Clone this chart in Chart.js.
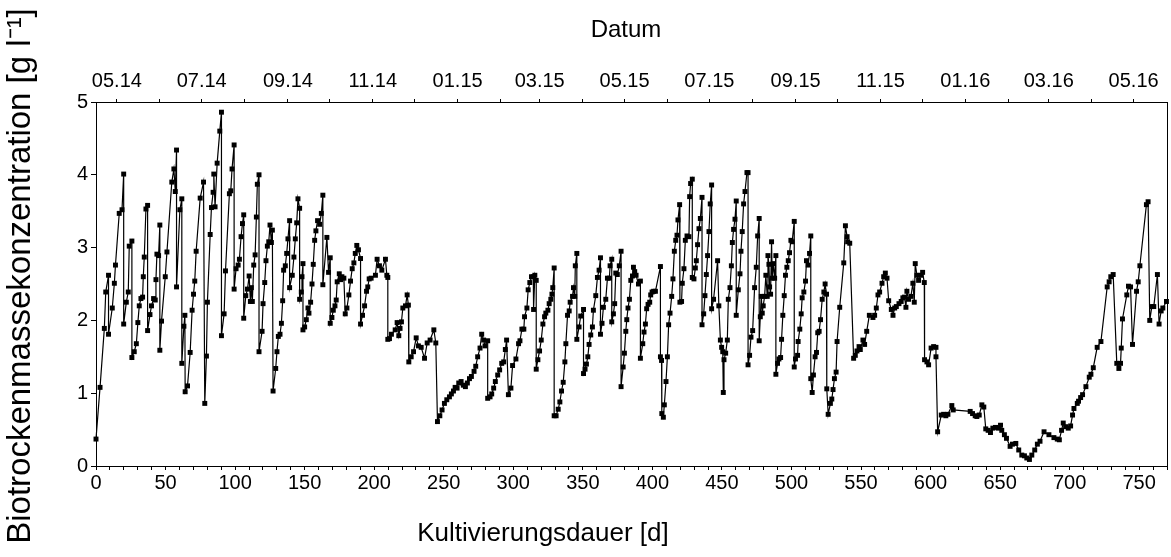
<!DOCTYPE html>
<html>
<head>
<meta charset="utf-8">
<script src="https://cdn.jsdelivr.net/npm/chart.js@4/dist/chart.umd.min.js"></script>
<style>
  html, body { margin: 0; padding: 0; background: #fff; }
  #wrap { width: 1171px; height: 557px; }
</style>
</head>
<body>
<div id="wrap"><canvas id="graficoBTM"></canvas></div>
<script>
// Kultivierungsdauer [d] und Biotrockenmassekonzentration [g/l]
var tage = [
  0, 2.9, 6, 7, 9, 9, 11.7, 13.2, 14, 16.7, 18.7, 19.9, 19.9, 21.8, 23.2, 23.9, 25.8, 25.8, 27.5, 29,
  30.1, 31.1, 32.3, 33.5, 34, 34.7, 35.9, 37.1, 37.1, 38.8, 39.9, 41.4, 42.6, 43.1, 43.8, 45, 45.9, 45.9, 47.1, 49.8,
  51, 54.5, 56, 57, 57.9, 57.9, 60.3, 61.7, 61.7, 63.2, 63.9, 64.1, 65.8, 67.7, 69.1, 70.1, 71, 72, 74.9, 77.3,
  78.2, 79.4, 80.1, 82.1, 83, 84.2, 84.7, 85.6, 87.1, 89, 90.2, 90.2, 92.1, 93.1, 95.9, 96.9, 97.8, 99.3, 99.3, 100.7,
  102.2, 103.1, 104.3, 105.3, 106.2, 106.2, 107.7, 108.9, 110.1, 111, 111.7, 112.4, 113.4, 114.4, 115.3, 116, 117.2, 117.2, 119.4, 120.1,
  121.3, 122.2, 123.2, 124.2, 125.1, 126.1, 126.8, 127.3, 129.2, 130.1, 131.1, 132.3, 133.3, 134.2, 134.9, 136.1, 137.1, 138, 139.2, 139.2,
  141.1, 142.3, 143.3, 144.3, 145.2, 146.4, 146.4, 147.6, 148.1, 148.8, 148.8, 150, 151.2, 152.4, 153.1, 154.3, 155.3, 156.2, 157.2, 158.1,
  159.3, 160.8, 162, 163.1, 163.1, 166, 167.2, 168.4, 168.4, 169.6, 170.6, 171.8, 172.7, 173.4, 174.9, 175.8, 176.8, 178.2, 179.2, 180.4,
  181.8, 183, 184.2, 185.4, 186.4, 187.5, 188.7, 190.2, 190.2, 191.6, 193.1, 194.5, 195.4, 196.4, 197.8, 200.9, 202.1, 203.8, 205.5, 208.1,
  209.1, 209.8, 209.8, 211, 212.4, 215.1, 216.5, 217.7, 218.6, 219.6, 220.6, 222.5, 223.7, 224.6, 224.9, 226.6, 228.3, 230.2, 231.8, 233.8,
  236.2, 238.1, 240.2, 242.9, 244.3, 245.5, 247.2, 248.8, 250.5, 252.2, 254.1, 255.5, 257, 258.2, 259.6, 260.8, 262.5, 264.1, 265.6, 267,
  268.5, 269.9, 271.8, 273, 274.4, 276.1, 277.3, 278.7, 279.7, 281.6, 281.6, 283.3, 284.5, 285.9, 287.1, 288.8, 290.2, 291.7, 293.1, 294.3,
  295.2, 296.5, 298.3, 299.5, 301.9, 303.8, 304.8, 306.2, 307.6, 308.1, 309.8, 310.7, 311.9, 313.1, 314.4, 314.6, 315.5, 316.5, 316.5, 317.7,
  318.9, 320.1, 321.3, 322.5, 323.4, 324.9, 325.8, 327, 327.8, 328.4, 329.4, 329.4, 330.8, 332.3, 333.5, 334.7, 335.9, 337.1, 337.8, 339,
  340.2, 340.9, 342.6, 343.3, 344.2, 344.6, 345.7, 345.7, 347.3, 348.5, 350.5, 350.5, 351.6, 352.6, 353.6, 354.5, 355.7, 356.9, 357.6, 359.3,
  360.5, 361.7, 362.7, 362.7, 363.8, 364.8, 366.5, 367.7, 369.1, 369.6, 370.8, 370.8, 372, 372.9, 373.7, 374.8, 376.2, 377.5, 377.5, 379,
  379.9, 380.9, 381.6, 382.5, 383.5, 384.5, 385.7, 386.4, 387.3, 388.3, 390, 391.4, 391.4, 393.1, 394, 395, 395.9, 396.9, 398.1, 398.8,
  399.8, 400.9, 402.2, 405.8, 405.8, 406.6, 406.8, 407.9, 408.6, 409.8, 410.8, 411.7, 412.7, 413.9, 414.8, 415.8, 416.8, 417.7, 418.4, 419.6,
  419.8, 421, 421.5, 422.7, 423.7, 424.9, 426.3, 426.8, 427.5, 428.7, 428.7, 429.9, 430.9, 431.6, 432.5, 433.5, 434.5, 435.7, 435.7, 436.9,
  437.8, 438.8, 439.7, 440.7, 441.6, 442.6, 442.6, 444, 446.9, 447.8, 448.9, 449.8, 450.6, 451, 451.5, 452.7, 453.9, 454.6, 455.8, 456.8,
  457.5, 458.4, 459.4, 460.3, 460.3, 461.8, 463, 463.7, 464.6, 465.6, 466.6, 468, 468.8, 468.8, 469.9, 470.9, 472.1, 473.5, 474.7, 475.7,
  476.8, 476.8, 477.6, 478.3, 479, 479.7, 480.7, 481.6, 482.6, 483.1, 483.8, 484.3, 485, 485.7, 486.2, 486.9, 487.9, 488.8, 488.8, 490,
  491, 492.2, 492.9, 493.8, 494.8, 495.7, 496.7, 497.7, 498.6, 499.6, 500.5, 502, 502, 502.9, 504.4, 504.8, 506, 507, 507.7, 508.9,
  510.1, 510.8, 512, 513, 513.9, 513.9, 514.9, 515.8, 517, 518, 518.9, 519.9, 520.9, 522.1, 523.3, 524.2, 525.2, 525.4, 526.4, 528,
  529, 529.9, 530.9, 532.1, 532.8, 534.7, 537.6, 538.8, 540, 540.4, 541.9, 544.7, 545.9, 547.1, 548.6, 549.5, 551.4, 552.6, 554.1, 556,
  558.6, 559.8, 561, 562.2, 563.4, 565.1, 566.3, 567.5, 568.7, 569.9, 571.8, 573, 574.2, 575.4, 577.3, 578.9, 580.1, 581.3, 582.3, 583,
  584.2, 585.9, 587.3, 588.3, 589, 590.2, 591.4, 593.1, 594.3, 595.5, 595.7, 597.4, 598.6, 600.4, 602.2, 603.9, 603.9, 605.1, 607.7, 609.4,
  611, 612.5, 615.3, 616.3, 628.5, 630.2, 632.1, 633.3, 635, 636.9, 638.3, 639.7, 641.4, 643.1, 644.8, 646.7, 648.8, 650.3, 651.2, 653.1,
  654.6, 657.2, 658.9, 661.3, 663.4, 665.6, 667.5, 669.2, 671.1, 672.8, 674.9, 676.8, 678.7, 681.6, 685.1, 688.7, 691.1, 692.6, 694.2, 695.4,
  697.1, 699, 700.7, 702.1, 703.1, 705.5, 706.4, 707.9, 709.3, 711.7, 714.1, 715.3, 717, 719.8, 722.5, 727, 728.4, 729.6, 731.3, 733.9,
  735.4, 736.6, 737.1, 738, 741.1, 742.3, 743.8, 745.2, 748.1, 749.3, 750.5, 755.2, 756.4, 757.6, 759.1, 760.5, 763.1, 764.3, 765.8, 767,
  769.6
];
var btm = [
  0.37, 1.08, 1.89, 2.39, 2.62, 1.81, 2.17, 2.51, 2.76, 3.47, 3.52, 4.01, 1.95, 2.25, 2.39, 3.02, 3.09, 1.49, 1.57, 1.68,
  1.97, 2.20, 2.30, 2.32, 2.60, 2.87, 3.53, 3.58, 1.86, 2.08, 2.20, 2.30, 2.28, 2.56, 2.91, 2.89, 3.31, 1.59, 1.99, 2.60,
  2.94, 3.90, 4.08, 3.77, 4.34, 2.46, 3.52, 3.67, 1.41, 1.92, 2.07, 1.02, 1.10, 1.56, 2.14, 2.36, 2.54, 2.95, 3.68, 3.90,
  0.86, 1.51, 2.25, 3.18, 3.55, 3.76, 4.01, 3.56, 4.16, 4.60, 4.86, 1.79, 2.09, 2.68, 3.74, 3.78, 4.08, 4.41, 2.43, 2.71,
  2.76, 2.84, 3.15, 3.33, 3.45, 2.03, 2.34, 2.43, 2.61, 2.26, 2.45, 2.26, 2.76, 2.90, 3.42, 3.87, 4.00, 1.57, 1.85, 2.23,
  2.52, 2.82, 3.02, 3.08, 3.31, 3.07, 3.24, 1.03, 1.34, 1.57, 1.78, 1.81, 1.96, 2.27, 2.69, 2.75, 2.92, 3.12, 3.37, 2.45,
  2.62, 2.87, 3.12, 3.34, 3.67, 3.54, 2.29, 2.39, 2.60, 2.78, 1.87, 1.91, 2.01, 2.17, 2.10, 2.25, 2.50, 2.77, 3.10, 3.23,
  3.37, 3.32, 3.47, 3.72, 2.49, 3.14, 2.66, 2.86, 1.96, 2.04, 2.14, 2.20, 2.28, 2.53, 2.64, 2.56, 2.60, 2.58, 2.09, 2.17,
  2.35, 2.54, 2.71, 2.79, 2.92, 3.03, 2.97, 2.85, 1.95, 2.07, 2.20, 2.40, 2.46, 2.57, 2.58, 2.62, 2.84, 2.75, 2.69, 2.84,
  2.62, 2.59, 1.74, 1.75, 1.81, 1.87, 1.97, 1.79, 1.89, 1.98, 2.17, 2.20, 2.35, 2.21, 1.43, 1.50, 1.57, 1.76, 1.65, 1.63,
  1.48, 1.69, 1.73, 1.87, 1.69, 0.61, 0.69, 0.77, 0.86, 0.91, 0.95, 0.99, 1.03, 1.08, 1.07, 1.14, 1.16, 1.11, 1.09, 1.14,
  1.20, 1.23, 1.30, 1.37, 1.50, 1.62, 1.81, 1.73, 1.65, 1.72, 0.93, 0.95, 0.99, 1.07, 1.16, 1.25, 1.32, 1.41, 1.43, 1.60,
  1.73, 0.98, 1.07, 1.38, 1.47, 1.68, 1.72, 1.88, 1.88, 2.05, 2.17, 2.42, 2.52, 2.60, 2.60, 2.15, 2.62, 2.55, 1.33, 1.46,
  1.58, 1.73, 1.95, 2.05, 2.10, 2.14, 2.23, 2.29, 2.36, 2.45, 2.72, 0.69, 0.69, 0.78, 0.88, 1.03, 1.15, 1.43, 1.68, 2.07,
  2.13, 2.25, 2.33, 2.45, 2.33, 2.75, 2.92, 1.74, 1.91, 2.06, 2.15, 1.27, 1.33, 1.40, 1.50, 1.67, 1.80, 1.91, 2.14, 2.34,
  2.59, 2.69, 2.86, 1.81, 1.96, 2.18, 2.29, 2.58, 2.58, 2.75, 2.84, 1.98, 2.09, 2.23, 2.65, 2.63, 2.75, 2.95, 1.09, 1.36,
  1.55, 1.85, 2.01, 2.17, 2.29, 2.55, 2.61, 2.73, 2.67, 2.62, 2.50, 2.54, 1.48, 1.68, 1.84, 1.95, 2.16, 2.22, 2.25, 2.35,
  2.39, 2.40, 2.40, 2.74, 1.50, 1.45, 0.72, 0.67, 0.84, 1.16, 1.50, 1.94, 2.10, 2.33, 2.57, 2.95, 3.10, 3.17, 3.38, 3.59,
  2.25, 2.26, 2.51, 2.71, 3.10, 3.16, 3.15, 3.70, 3.88, 3.94, 2.59, 2.57, 2.72, 2.82, 3.04, 3.26, 3.40, 3.69, 1.94, 2.09,
  2.34, 2.63, 2.89, 3.22, 3.60, 3.86, 2.16, 2.29, 2.82, 2.20, 1.73, 1.63, 1.57, 1.01, 1.46, 1.55, 1.73, 2.29, 2.45, 2.75,
  3.07, 3.25, 3.39, 3.64, 2.07, 2.42, 2.64, 2.95, 3.22, 3.60, 3.77, 4.03, 4.03, 1.39, 1.52, 1.77, 1.86, 2.45, 2.73, 3.16,
  3.40, 1.72, 2.05, 2.33, 2.10, 2.20, 2.33, 2.62, 2.33, 2.89, 2.77, 2.46, 2.36, 3.08, 2.58, 2.78, 2.58, 2.89, 1.26, 1.41,
  1.47, 1.49, 1.74, 2.07, 2.34, 2.62, 2.73, 2.82, 2.93, 3.10, 3.08, 3.36, 1.36, 1.47, 1.52, 1.71, 1.88, 2.09, 2.31, 2.39,
  2.54, 2.82, 2.76, 2.92, 3.16, 1.20, 1.01, 1.25, 1.50, 1.56, 1.83, 1.85, 2.01, 2.29, 2.39, 2.50, 2.36, 1.06, 0.71, 0.86,
  0.92, 1.05, 1.20, 1.29, 1.71, 2.18, 2.79, 3.30, 3.15, 3.08, 3.06, 1.48, 1.52, 1.58, 1.64, 1.60, 1.73, 1.67, 1.85, 2.07,
  2.04, 2.07, 2.17, 2.35, 2.39, 2.51, 2.60, 2.65, 2.58, 2.27, 2.15, 2.07, 2.17, 2.19, 2.23, 2.26, 2.31, 2.32, 2.18, 2.40,
  2.29, 2.33, 2.51, 2.25, 2.78, 2.62, 2.55, 2.62, 2.66, 2.52, 1.46, 1.43, 1.39, 1.62, 1.64, 1.63, 1.50, 0.47, 0.70, 0.71,
  0.69, 0.71, 0.83, 0.77, 0.75, 0.72, 0.69, 0.68, 0.70, 0.84, 0.81, 0.51, 0.49, 0.46, 0.52, 0.53, 0.52, 0.56, 0.49, 0.43,
  0.38, 0.27, 0.30, 0.31, 0.22, 0.15, 0.14, 0.11, 0.09, 0.15, 0.22, 0.30, 0.34, 0.47, 0.43, 0.39, 0.37, 0.36, 0.49, 0.59,
  0.54, 0.52, 0.55, 0.70, 0.79, 0.86, 0.89, 0.94, 0.98, 1.09, 1.22, 1.26, 1.35, 1.63, 1.71, 2.46, 2.53, 2.60, 2.63, 1.41,
  1.34, 1.41, 1.62, 2.02, 2.35, 2.47, 2.46, 1.67, 2.40, 2.53, 2.75, 3.59, 3.63, 2.00, 2.19, 2.19, 2.63, 1.95, 2.13, 2.17,
  2.26
];

// Obere Achse: Monatsanfaenge (Tage ab Kultivierungsbeginn) und Beschriftungen
var monatsTage = [15, 46, 76, 107, 138, 168, 199, 229, 260, 291, 319, 350, 380, 411, 441, 472, 503, 533, 564, 594, 625, 656, 685, 716, 746];
var datumLabels = ['05.14', '07.14', '09.14', '11.14', '01.15', '03.15', '05.15', '07.15', '09.15', '11.15', '01.16', '03.16', '05.16'];
var xLabelWerte = [0, 50, 100, 150, 200, 250, 300, 350, 400, 450, 500, 550, 600, 650, 700, 750];
var yLabelWerte = [0, 1, 2, 3, 4, 5];

var schrift = "'Liberation Sans', Arial, sans-serif";

var punkte = tage.map(function(t, i) { return { x: t, y: btm[i] }; });

// kleine Striche alle 10 Tage
var xStriche = [];
for (var t = 0; t <= 770; t += 10) xStriche.push(t);

// rechte Rahmenlinie und Achsentitel (Lage wie im Original)
var rahmen = {
  id: 'rahmen',
  afterDraw: function(chart) {
    var a = chart.chartArea, c = chart.ctx;
    c.save();
    c.strokeStyle = '#000';
    c.lineWidth = 1;
    c.beginPath();
    c.moveTo(a.right + 0.5, a.top);
    c.lineTo(a.right + 0.5, a.bottom);
    c.stroke();
    c.fillStyle = '#000';
    c.textAlign = 'center';
    c.textBaseline = 'middle';
    c.font = '26px ' + schrift;
    c.fillText('Kultivierungsdauer [d]', 543, 534);
    c.font = '24px ' + schrift;
    c.fillText('Datum', 626, 30);
    c.translate(21, 276);
    c.rotate(-Math.PI / 2);
    c.font = '33px ' + schrift;
    c.fillText('Biotrockenmassekonzentration [g l\u207B\u00B9]', 0, 0);
    c.restore();
  }
};

var ctx = document.getElementById('graficoBTM').getContext('2d');

var grafico = new Chart(ctx, {
  type: 'line',
  data: {
    datasets: [{
      label: 'Biotrockenmasse',
      data: punkte,
      borderColor: '#000',
      borderWidth: 1.2,
      backgroundColor: '#000',
      pointStyle: 'rect',
      pointRadius: 3.5,
      pointBorderWidth: 0,
      pointBackgroundColor: '#000',
      tension: 0,
      clip: 6
    }]
  },
  options: {
    responsive: true,
    maintainAspectRatio: false,
    animation: false,
    layout: { padding: { left: 0, right: 2, top: 0, bottom: 0 } },
    plugins: { legend: { display: false }, tooltip: { enabled: false } },
    scales: {
      x: {
        type: 'linear',
        position: 'bottom',
        min: 0,
        max: 770,
        afterBuildTicks: function(s) { s.ticks = xStriche.map(function(v) { return { value: v }; }); },
        afterFit: function(s) { s.height = 91; },
        ticks: {
          autoSkip: false,
          maxRotation: 0,
          padding: 1,
          color: '#000',
          font: { family: schrift, size: 20 },
          callback: function(v) { return xLabelWerte.indexOf(v) >= 0 ? String(v) : ''; }
        },
        grid: { drawOnChartArea: false, tickLength: 4, color: '#000' },
        border: { color: '#000', width: 1 }
      },
      x2: {
        type: 'linear',
        position: 'top',
        min: 0,
        max: 770,
        afterBuildTicks: function(s) { s.ticks = monatsTage.map(function(v) { return { value: v }; }); },
        afterFit: function(s) { s.height = 102; },
        ticks: {
          autoSkip: false,
          maxRotation: 0,
          padding: 6,
          color: '#000',
          font: { family: schrift, size: 20 },
          callback: function(v, i) { return i % 2 === 0 ? datumLabels[i / 2] : ''; }
        },
        grid: { drawOnChartArea: false, tickLength: 3, color: '#000' },
        border: { color: '#000', width: 1 }
      },
      y: {
        min: 0,
        max: 5,
        afterBuildTicks: function(s) { s.ticks = yLabelWerte.map(function(v) { return { value: v }; }); },
        afterFit: function(s) { s.width = 96; },
        ticks: {
          padding: 3,
          color: '#000',
          font: { family: schrift, size: 20 }
        },
        grid: { drawOnChartArea: false, tickLength: 5, color: '#000' },
        border: { color: '#000', width: 1 }
      }
    }
  },
  plugins: [rahmen]
});
</script>
</body>
</html>
